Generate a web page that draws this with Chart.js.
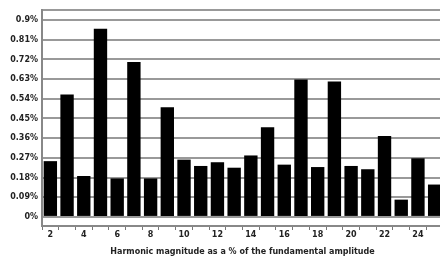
<!DOCTYPE html>
<html>
<head>
<meta charset="utf-8">
<script src="https://cdn.jsdelivr.net/npm/chart.js@4"></script>
<style>
  html, body { margin: 0; padding: 0; background: #fff; overflow: hidden; }
</style>
</head>
<body>
<canvas id="harmonics-chart" width="443" height="264"></canvas>
<script>
const harmonics = [2, 3, 4, 5, 6, 7, 8, 9, 10, 11, 12, 13, 14, 15, 16, 17, 18, 19, 20, 21, 22, 23, 24, 25];
const magnitude = [0.255, 0.56, 0.187, 0.86, 0.176, 0.708, 0.176, 0.501, 0.262, 0.233, 0.25, 0.225,
                   0.281, 0.41, 0.239, 0.628, 0.228, 0.619, 0.233, 0.218, 0.37, 0.079, 0.268, 0.148];
const yTicks = [0, 0.09, 0.18, 0.27, 0.36, 0.45, 0.54, 0.63, 0.72, 0.81, 0.9];
const yTickLabels = ['0%', '0.09%', '0.18%', '0.27%', '0.36%', '0.45%', '0.54%', '0.63%', '0.72%', '0.81%', '0.9%'];
const yMin = -0.0415;
const yMax = 0.946;

const labelFont = {family: 'DejaVu Sans', weight: 'bold', size: 8};

new Chart(document.getElementById('harmonics-chart'), {
    type: 'bar',
    data: {
        labels: harmonics,
        datasets: [{
            data: magnitude,
            backgroundColor: '#000',
            barPercentage: 0.8,
            categoryPercentage: 1
        }]
    },
    options: {
        responsive: false,
        animation: false,
        layout: {padding: {top: 10, right: 0, left: 0, bottom: 0}},
        plugins: {legend: {display: false}, tooltip: {enabled: false}},
        scales: {
            x: {
                grid: {drawOnChartArea: false, drawTicks: true, tickLength: 4, color: '#777', lineWidth: 1},
                border: {display: true, color: '#888', width: 2},
                ticks: {
                    autoSkip: false,
                    maxRotation: 0,
                    padding: 0,
                    color: '#222',
                    font: labelFont,
                    callback: (v, i) => (harmonics[i] % 2 === 0 ? String(harmonics[i]) : '')
                },
                title: {
                    display: true,
                    text: 'Harmonic magnitude as a % of the fundamental amplitude',
                    color: '#222',
                    font: labelFont,
                    padding: {top: 0, bottom: 7}
                },
                afterFit: scale => { scale.height = 38; }
            },
            y: {
                min: yMin,
                max: yMax,
                afterBuildTicks: scale => {
                    scale.ticks = yTicks.map(v => ({value: v})).concat([{value: yMax}]);
                },
                afterFit: scale => { scale.width = 42; },
                grid: {color: '#999', lineWidth: 2, drawTicks: false},
                border: {display: true, color: '#888', width: 2},
                ticks: {
                    padding: 4,
                    color: '#222',
                    font: labelFont,
                    callback: (v, i) => (i < yTickLabels.length ? yTickLabels[i] : '')
                }
            }
        }
    }
});
</script>
</body>
</html>
